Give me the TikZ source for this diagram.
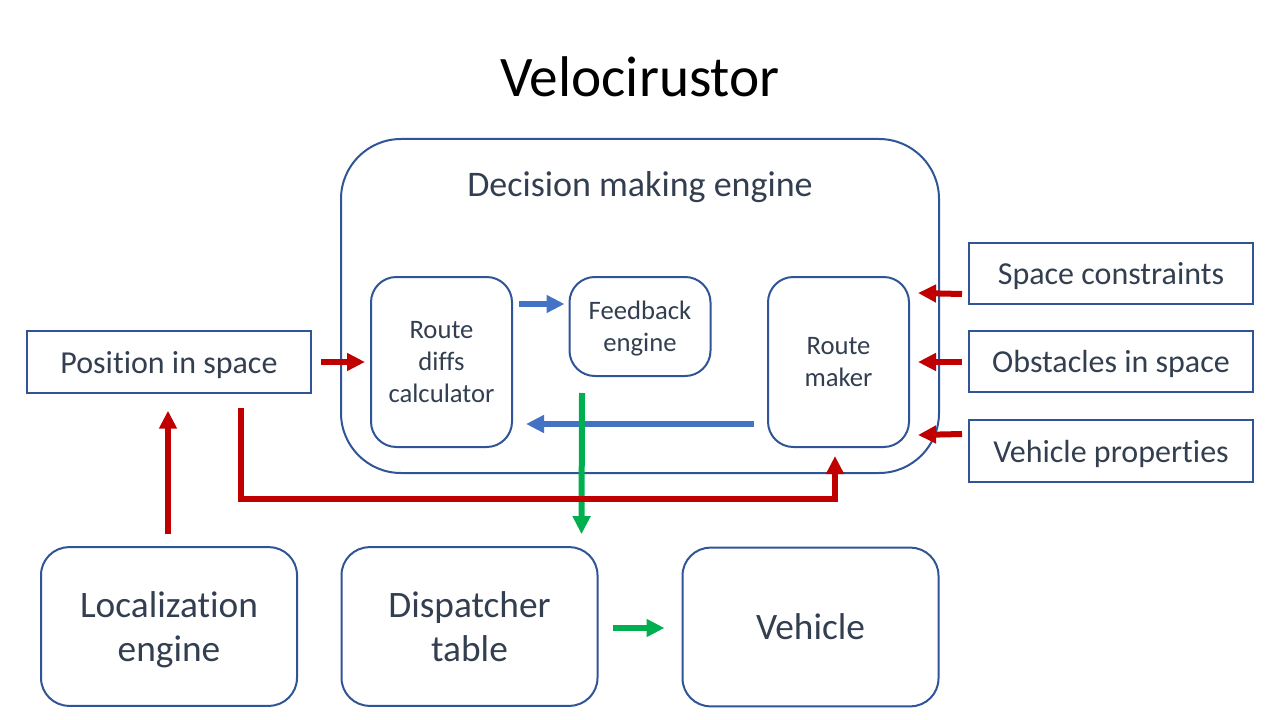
\documentclass[tikz,border=0pt]{standalone}
\usepackage{fontspec}
\setmainfont[Ligatures=NoCommon]{Carlito}
\usetikzlibrary{arrows.meta,calc}
\definecolor{bordc}{HTML}{2F5597}
\definecolor{txtc}{HTML}{333F50}
\definecolor{redc}{HTML}{C00000}
\definecolor{bluec}{HTML}{4472C4}
\definecolor{greenc}{HTML}{00B050}
\begin{document}
\begin{tikzpicture}[x=0.75pt,y=-0.75pt,
  box/.style={draw=bordc,line width=1.5pt,text=txtc,align=center,inner sep=0pt,text depth=0pt},
  rbox/.style={box,rounded corners=19pt},
  sqbox/.style={box,minimum width=213pt,minimum height=46pt,font=\fontsize{24}{29}\selectfont},
  inbox/.style={rbox,minimum width=105.75pt,font=\fontsize{20}{24}\selectfont},
  botbox/.style={box,rounded corners=21pt,minimum width=192pt,minimum height=119pt,font=\fontsize{28}{33}\selectfont},
  arr/.style={line width=4.5pt,-{Triangle[length=13.5pt,width=12.75pt]}},
  ra/.style={arr,draw=redc},
  ba/.style={arr,draw=bluec},
  ga/.style={arr,draw=greenc}]
\useasboundingbox (0,0) rectangle (1280,720);
\node (title) at (640,77) {\fontsize{43}{52}\selectfont Velocirustor};
\node[box,rounded corners=45pt,minimum width=448.5pt,minimum height=250.5pt] (dme) at (640,306) {};
\node[text=txtc,font=\fontsize{27}{32}\selectfont] (dmelabel) at (640,187) {Decision making engine};
\node[inbox,minimum height=127.5pt] (rdc) at (441.5,362) {Route\\diffs\\calculator};
\node[inbox,minimum height=74.25pt] (fb) at (640,326.5) {Feedback\\engine};
\node[inbox,minimum height=127.5pt] (rm) at (838.5,362) {Route\\maker};
\node[sqbox] (pos) at (169,362) {Position in space};
\node[sqbox] (sc) at (1111,273.5) {Space constraints};
\node[sqbox] (ob) at (1111,361.5) {Obstacles in space};
\node[sqbox] (vp) at (1111,451) {Vehicle properties};
\node[botbox] (loc) at (169,626.5) {Localization\\engine};
\node[botbox] (disp) at (469.5,626.5) {Dispatcher\\table};
\node[botbox] (veh) at (810.5,627) {Vehicle};
% arrows
\draw[ra] ($(pos.east)+(9,0)$) -- ($(rdc.west)+(-5,0)$);
\draw[ba] ($(rdc.north east)+(6,28)$) -- ($(fb.north west)+(-4,28)$);
\draw[ba] ($(rm.south west)+(-13,-24)$) -- ($(rdc.south east)+(13,-24)$);
\draw[ga] ($(fb.south)+(-58,16)$) -- ($(disp.north west)+(241,-12)$);
\draw[ra] ($(pos.south east)+(-71,14)$) |- ($(rm.south)+(-3.5,51)$) -- ($(rm.south)+(-3.5,8)$);
\draw[ra] ($(loc.north)+(-1,-12)$) -- ($(pos.south)+(-1,17)$);
\draw[ra] ($(sc.west)+(-6,20.5)$) -- ($(rm.north east)+(8,17)$);
\draw[ra] ($(ob.west)+(-6,0.5)$) -- ($(rm.east)+(8,0)$);
\draw[ra] ($(vp.west)+(-6,-17)$) -- ($(rm.south east)+(8,-13)$);
\draw[ga] ($(disp.east)+(14,1.5)$) -- ($(veh.west)+(-17,1)$);
\end{tikzpicture}
\end{document}
